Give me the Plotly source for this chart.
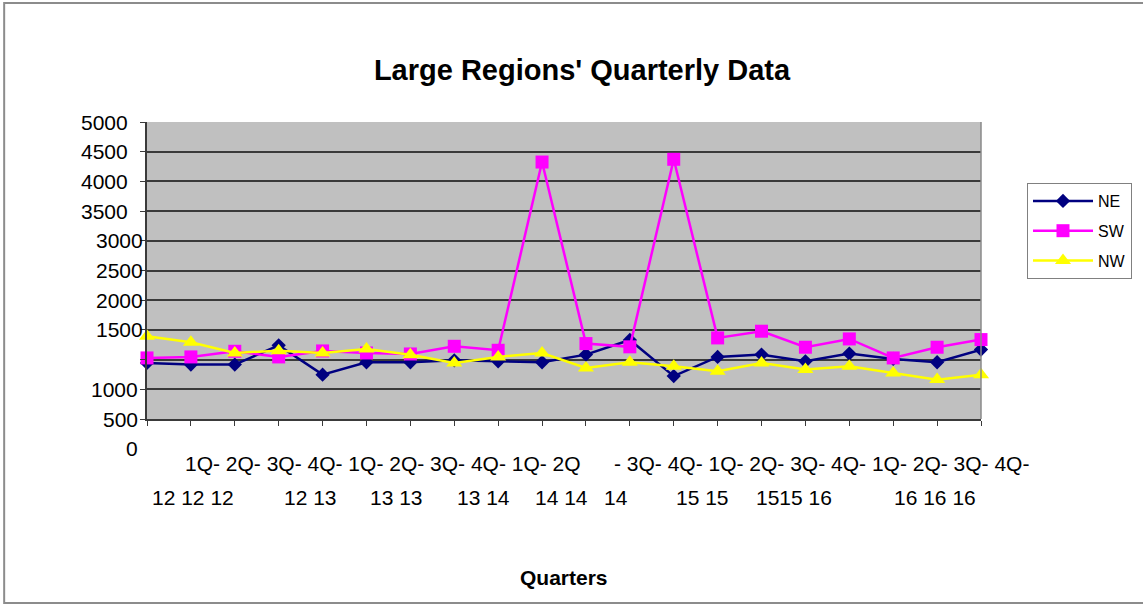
import plotly.graph_objects as go

# ---------------- data ----------------
QUARTERS = ["1Q-12", "2Q-12", "3Q-12", "4Q-12", "1Q-13", "2Q-13", "3Q-13", "4Q-13",
            "1Q-14", "2Q-14", "3Q-14", "4Q-14", "1Q-15", "2Q-15", "3Q-15", "4Q-15",
            "1Q-16", "2Q-16", "3Q-16", "4Q-16"]
NE = [944, 916, 916, 1240, 747, 955, 955, 988, 971, 955,
      1084, 1330, 722, 1045, 1084, 971, 1101, 1012, 955, 1168]
SW = [1028, 1045, 1140, 1045, 1146, 1112, 1095, 1224, 1157, 4326,
      1270, 1215, 4372, 1365, 1478, 1208, 1348, 1028, 1208, 1337]
NW = [1393, 1292, 1112, 1150, 1112, 1180, 1080, 944, 1045, 1112,
      860, 955, 888, 803, 944, 832, 888, 775, 663, 747]
SERIES = ["NE", "SW", "NW"]
Y_TICK_VALUES = [5000, 4500, 4000, 3500, 3000, 2500, 2000, 1500, 1000, 500, 0]
Y_TICK_LABELS = ["5000", "4500", "4000", "3500", "3000", "2500", "2000", "1500", "1000", "500", "0"]
TITLE = "Large Regions' Quarterly Data"
X_TITLE = "Quarters"

# ---------------- layout constants (pixels) ----------------
W, H = 1143, 605
L, R, T, B = 147, 161, 122, 186
PW, PH = W - L - R, H - T - B
FONT = "Liberation Sans, Arial, sans-serif"
YMAX = 5000


def px_x(px):
    return (px - L) / PW


def px_y(py):
    return (H - B - py) / PH


fig = go.Figure()
styles = {
    "NE": dict(color="#000080", symbol="diamond", size=11),
    "SW": dict(color="#ff00ff", symbol="square", size=13),
    "NW": dict(color="#ffff00", symbol="triangle-up", size=14),
}
for name, vals in zip(SERIES, [NE, SW, NW]):
    st = styles[name]
    fig.add_trace(go.Scatter(
        x=QUARTERS, y=vals, name=name, legendgroup=name, mode="lines+markers",
        line=dict(color=st["color"], width=2.5),
        marker=dict(color=st["color"], symbol=st["symbol"], size=st["size"]),
        cliponaxis=False,
    ))

annotations = []
# y-axis labels (as rendered in the reference: the last labels sit one gridline lower)
shown_vals = [5000, 4500, 4000, 3500, 3000, 2500, 2000, 1500, 500, 0, -500]
shifts = [-17, -17, -17, -17, -2, -2, -2, -2, -7, -7, -7]
for lab, v, sh in zip(Y_TICK_LABELS, shown_vals, shifts):
    annotations.append(dict(text=lab, xref="paper", x=0, xanchor="right", xshift=sh,
                            yref="paper", y=v / YMAX, yanchor="middle", showarrow=False,
                            font=dict(family=FONT, size=21, color="#000000")))

# x-axis labels (wrapped as in the reference)
prefixes = [q.split("-")[0] + "-" for q in QUARTERS]
years = [q.split("-")[1] for q in QUARTERS]
row1 = [(" ".join(prefixes[:9]) + " " + prefixes[9][:-1], 183),
        ("- " + " ".join(prefixes[10:]), 613)]
row2 = [(" ".join(years[0:3]), 150), (" ".join(years[3:5]), 282),
        (" ".join(years[5:7]), 368), (" ".join(years[7:9]), 455),
        (" ".join(years[9:11]), 533), (years[11], 603),
        (" ".join(years[12:14]), 675), ("".join(years[14:16]) + " " + years[16], 755),
        (" ".join(years[17:20]), 893)]
for txt, left in row1:
    annotations.append(dict(text=txt, xref="paper", x=px_x(left), xanchor="left",
                            yref="paper", y=0, yanchor="middle", yshift=-44,
                            showarrow=False, font=dict(family=FONT, size=21, color="#000000")))
for txt, left in row2:
    annotations.append(dict(text=txt, xref="paper", x=px_x(left), xanchor="left",
                            yref="paper", y=0, yanchor="middle", yshift=-78,
                            showarrow=False, font=dict(family=FONT, size=21, color="#000000")))
annotations.append(dict(text="<b>" + X_TITLE + "</b>", xref="paper", x=0.5, xanchor="center",
                        yref="paper", y=0, yanchor="middle", yshift=-158, showarrow=False,
                        font=dict(family=FONT, size=21, color="#000000")))

shapes = [
    # outer chart frame
    dict(type="rect", xref="paper", yref="paper", x0=px_x(4), x1=px_x(1150),
         y0=px_y(603), y1=px_y(3), line=dict(color="#8c8c8c", width=2), layer="below"),
    # right edge of plot area
    dict(type="line", xref="paper", yref="paper", x0=1, x1=1, y0=0, y1=1,
         line=dict(color="#8a8a8a", width=1.5)),
]

fig.update_layout(
    width=W, height=H, autosize=False,
    margin=dict(l=L, r=R, t=T, b=B, pad=0),
    paper_bgcolor="#ffffff", plot_bgcolor="#c0c0c0",
    font=dict(family=FONT, color="#000000"),
    title=dict(text="<b>" + TITLE + "</b>", x=582 / W, xref="container", xanchor="center",
               y=1 - 70 / H, yref="container", yanchor="middle",
               font=dict(family=FONT, size=29, color="#000000")),
    xaxis=dict(type="category", range=[0, len(QUARTERS) - 1], showticklabels=False,
               showgrid=False, zeroline=False, showline=True, linecolor="#3a3a3a", linewidth=2,
               ticks="outside", ticklen=5, tickcolor="#3a3a3a", tickwidth=1),
    yaxis=dict(range=[0, YMAX], tickvals=Y_TICK_VALUES, showticklabels=False,
               showgrid=True, gridcolor="#3a3a3a", gridwidth=2, zeroline=False,
               showline=True, linecolor="#3a3a3a", linewidth=2,
               ticks="outside", ticklen=5, tickcolor="#3a3a3a"),
    legend=dict(x=px_x(1027), y=px_y(183), xanchor="left", yanchor="top",
                bordercolor="#808080", borderwidth=1, bgcolor="#ffffff",
                font=dict(family=FONT, size=16, color="#000000"),
                itemwidth=60, tracegroupgap=6),
    annotations=annotations,
    shapes=shapes,
    showlegend=True,
)

fig.write_html("out.html", config={"displayModeBar": False},
               post_script="document.body.style.margin='0';")
